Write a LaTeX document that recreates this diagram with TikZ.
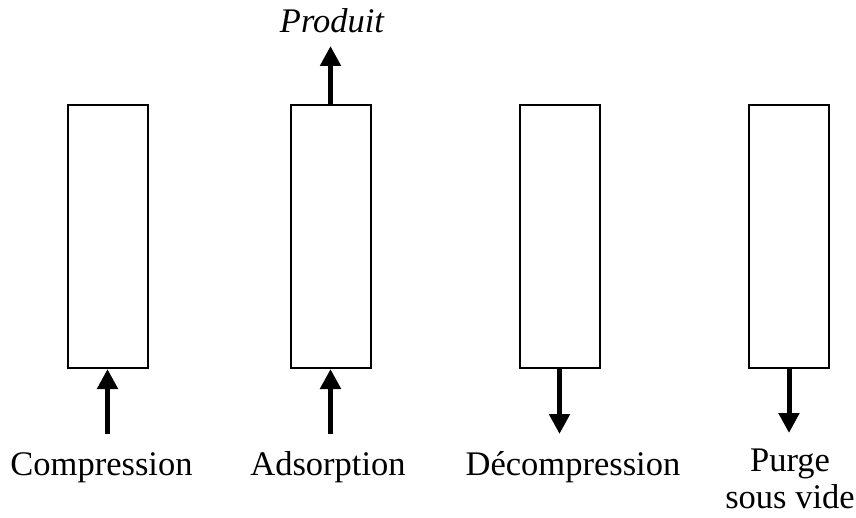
\documentclass[tikz,border=0pt]{standalone}
\usepackage{fontspec}
\setmainfont{Liberation Serif}
\usetikzlibrary{positioning,arrows.meta}

\begin{document}
\begin{tikzpicture}[x=1pt,y=-1pt,node distance=223pt,on grid]
      \useasboundingbox (0,0) rectangle (856,518);
      \tikzset{column/.style={draw,rectangle,line width=2pt,inner sep=0pt,minimum width=80pt,minimum height=263pt}}
      \tikzset{flow/.style={-{Triangle[width=20pt,length=20pt]},line width=5pt}}
      \tikzset{lbl/.style={anchor=base,align=center,inner sep=0pt,font=\fontsize{34.5}{37}\selectfont}}

      \node[column] (c1) at (107.5,236.5) {};
      \node[column] (c2) [right = 223pt of c1] {};
      \node[column] (c3) [right = 229pt of c2] {};
      \node[column] (c4) [right = 229.5pt of c3] {};

      \coordinate (in1) at ([yshift=-65pt]c1.south);
      \coordinate (in2) at ([yshift=-65pt]c2.south);
      \coordinate (out2) at ([yshift=58pt]c2.north);
      \coordinate (out3) at ([yshift=-65pt]c3.south);
      \coordinate (out4) at ([yshift=-64pt]c4.south);

      \node[lbl,font=\fontsize{34.5}{37}\selectfont\itshape] (prod) at (332,33) {Produit};
      \node[lbl] (t1) at (101.5,475) {Compression};
      \node[lbl] (t2) at (328,475) {Adsorption};
      \node[lbl] (t3) at (573,475) {Décompression};
      \node[lbl] (t4) at (790,508) {Purge\\sous vide};

      \draw[flow] (in1) -- (c1.south);
      \draw[flow] (in2) -- (c2.south);
      \draw[flow] (c2.north) -- (out2);
      \draw[flow] (c3.south) -- (out3);
      \draw[flow] (c4.south) -- (out4);
    \end{tikzpicture}
\end{document}
